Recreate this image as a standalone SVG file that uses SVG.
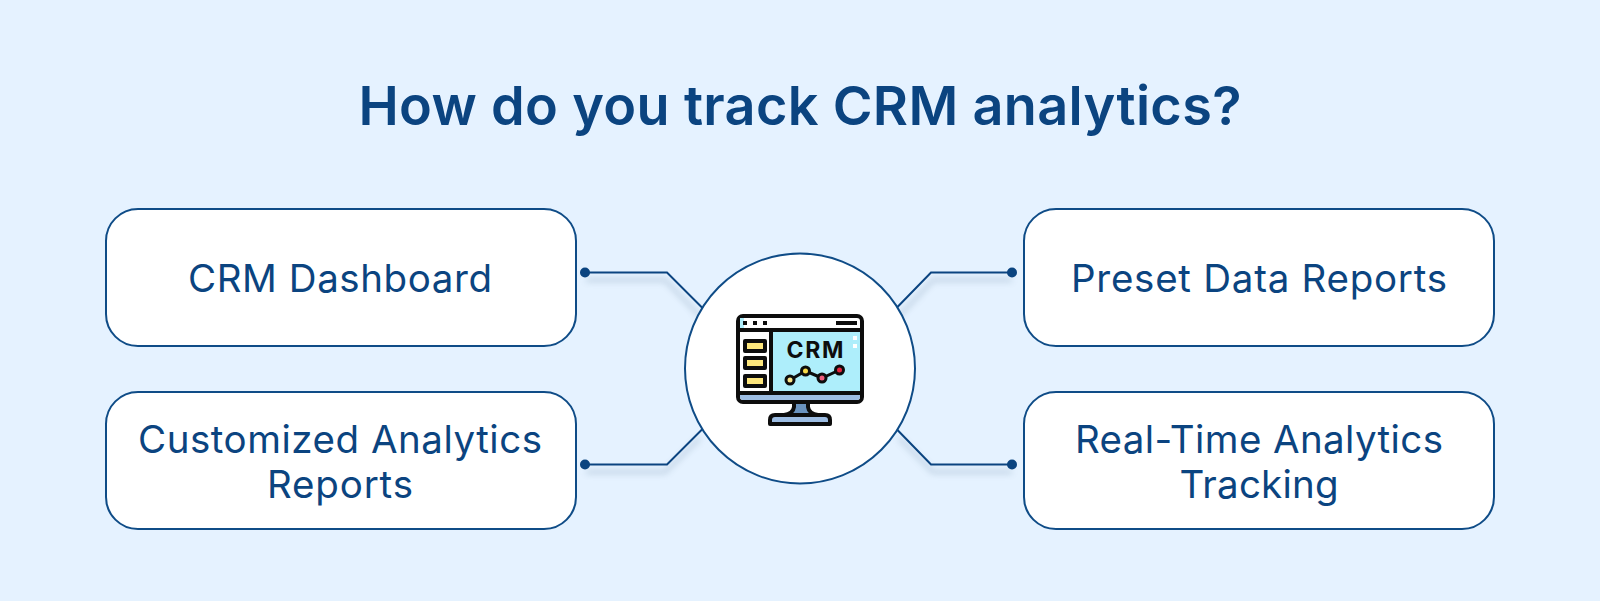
<svg xmlns="http://www.w3.org/2000/svg" width="1600" height="603" viewBox="0 0 1600 603">
<style>
.box{fill:#fff;stroke:#0f4c87;stroke-width:2}
.lbl{font-family:Inter,"Noto Sans",sans-serif;font-size:38.500px;font-weight:400;fill:#0b4480;text-anchor:middle}
.title{font-family:Inter,"Noto Sans",sans-serif;font-size:54px;font-weight:600;fill:#0b4480;text-anchor:middle}
.con{fill:none;stroke:#0b4480;stroke-width:2}
.dot{fill:#0b4480}
.shadow{fill:none;stroke:#6f8aa6;stroke-width:3;opacity:.4;filter:url(#blur)}
.k{stroke:#0d0d0d;stroke-width:4;stroke-linejoin:round}
</style>
<defs><filter id="blur" x="-20%" y="-50%" width="140%" height="200%"><feGaussianBlur stdDeviation="3"/></filter></defs>
<rect width="1600" height="601" fill="#e5f2ff"/>
<text class="title" x="800" y="125" textLength="883" lengthAdjust="spacing">How do you track CRM analytics?</text>
<g id="connectors">
<path class="shadow" d="M586 280H665L700 316"/><path class="shadow" d="M586 472H665L700 438"/><path class="shadow" d="M1012 280H933L899 316"/><path class="shadow" d="M1012 472H933L899 438"/>
<path class="con" d="M586 272.500H667L702.500 308"/><circle class="dot" cx="585" cy="272.500" r="5"/>
<path class="con" d="M586 464.500H667L702.500 429"/><circle class="dot" cx="585" cy="464.500" r="5"/>
<path class="con" d="M1012 272.500H931L896.500 308"/><circle class="dot" cx="1012" cy="272.500" r="5"/>
<path class="con" d="M1012 464.500H931L896.500 429"/><circle class="dot" cx="1012" cy="464.500" r="5"/>
</g>
<g id="node-crm-dashboard"><rect class="box" x="106" y="209" width="470" height="137" rx="32"/><text class="lbl" x="340" y="292" textLength="304" lengthAdjust="spacing">CRM Dashboard</text></g>
<g id="node-customized"><rect class="box" x="106" y="392" width="470" height="137" rx="32"/><text class="lbl" x="340" y="453" textLength="404" lengthAdjust="spacing">Customized Analytics</text><text class="lbl" x="340" y="498" textLength="146" lengthAdjust="spacing">Reports</text></g>
<g id="node-preset"><rect class="box" x="1024" y="209" width="470" height="137" rx="32"/><text class="lbl" x="1259" y="292" textLength="376" lengthAdjust="spacing">Preset Data Reports</text></g>
<g id="node-realtime"><rect class="box" x="1024" y="392" width="470" height="137" rx="32"/><text class="lbl" x="1259" y="453" textLength="368" lengthAdjust="spacing">Real-Time Analytics</text><text class="lbl" x="1259" y="498" textLength="159" lengthAdjust="spacing">Tracking</text></g>
<g id="node-center">
<circle cx="800" cy="368.500" r="115" fill="#fff" stroke="#0f4c87" stroke-width="2"/>
<path d="M794 402H808V407Q809 414 818 415H784Q793 414 794 407Z" fill="#6a93bf" class="k"/>
<path d="M770 424V420Q770 415 775 415H825Q830 415 830 420V424Z" fill="#9dbde3" class="k"/>
<rect x="738" y="316" width="124" height="86" rx="5" fill="#fff" class="k"/>
<rect x="740" y="318" width="4" height="12" fill="#aeeefb"/>
<rect x="773" y="332" width="87" height="61" fill="#aeeefb"/>
<path d="M740 394H860V397Q860 400 857 400H743Q740 400 740 397Z" fill="#9dbde3"/>
<path class="k" fill="none" d="M738 330H862M738 393H862M771 330V393"/>
<rect x="745" y="341" width="20" height="10" fill="#fde67c" class="k"/>
<rect x="745" y="358" width="20" height="10" fill="#fde67c" class="k"/>
<rect x="745" y="376" width="20" height="10" fill="#fde67c" class="k"/>
<rect x="743" y="321" width="4" height="4" fill="#0d0d0d"/><rect x="753" y="321" width="4" height="4" fill="#0d0d0d"/><rect x="763" y="321" width="4" height="4" fill="#0d0d0d"/><rect x="836" y="321" width="21" height="4" fill="#0d0d0d"/>
<rect x="853" y="336" width="4" height="4" fill="#fff"/><rect x="853" y="344" width="4" height="4" fill="#fff"/>
<text x="815" y="358" font-family="Inter,'Noto Sans',sans-serif" font-size="23" font-weight="700" fill="#0d0d0d" text-anchor="middle" textLength="57" lengthAdjust="spacing">CRM</text>
<path d="M790 380L805.500 371L822 378L839.500 370" fill="none" stroke="#0d0d0d" stroke-width="3"/>
<circle cx="790" cy="380" r="4" fill="#fbe58a" stroke="#0d0d0d" stroke-width="3"/>
<circle cx="805.500" cy="371" r="4" fill="#f7d948" stroke="#0d0d0d" stroke-width="3"/>
<circle cx="822" cy="378" r="4" fill="#ef5d7d" stroke="#0d0d0d" stroke-width="3"/>
<circle cx="839.500" cy="370" r="4" fill="#e8243f" stroke="#0d0d0d" stroke-width="3"/>
</g>
</svg>
